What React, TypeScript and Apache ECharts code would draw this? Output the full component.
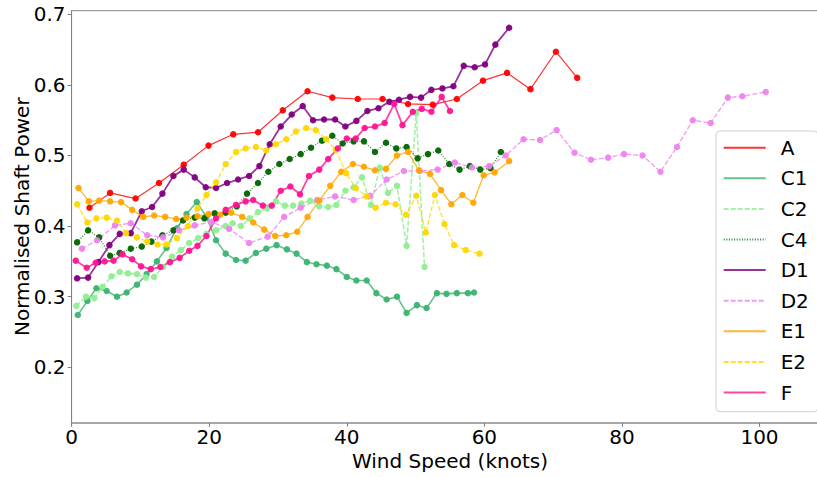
import React, { useEffect, useRef } from "react";
import * as echarts from "echarts";

// ---- data ----
const X_TICKS = [0, 20, 40, 60, 80, 100];
const Y_TICKS = [0.2, 0.3, 0.4, 0.5, 0.6, 0.7];

const A_x = [2.6, 5.6, 9.3, 12.7, 16.3, 19.9, 23.5, 27.1, 30.7, 34.3, 37.9, 41.6, 45.2, 48.9, 52.5, 56.0, 59.8, 63.3, 66.7, 70.4, 73.5];
const A_y = [0.426, 0.447, 0.439, 0.461, 0.487, 0.514, 0.530, 0.533, 0.564, 0.591, 0.582, 0.580, 0.580, 0.573, 0.572, 0.580, 0.606, 0.617, 0.594, 0.647, 0.610];

const C1_x = [0.9, 2.3, 3.6, 5.1, 6.6, 8.0, 9.5, 10.9, 12.4, 13.8, 15.3, 16.7, 18.2, 19.6, 21.0, 22.4, 23.9, 25.3, 26.8, 28.3, 29.8, 31.3, 32.7, 34.2, 35.6, 37.1, 38.5, 40.0, 41.4, 42.9, 44.3, 45.8, 47.3, 48.7, 50.2, 51.6, 53.1, 54.5, 56.0, 57.6, 58.5];
const C1_y = [0.274, 0.294, 0.312, 0.308, 0.300, 0.306, 0.317, 0.332, 0.350, 0.369, 0.397, 0.417, 0.434, 0.413, 0.380, 0.361, 0.352, 0.351, 0.362, 0.368, 0.373, 0.367, 0.361, 0.349, 0.346, 0.344, 0.339, 0.328, 0.323, 0.323, 0.305, 0.296, 0.300, 0.277, 0.288, 0.284, 0.305, 0.304, 0.305, 0.305, 0.306];

const C2_x = [0.7, 2.1, 3.3, 4.5, 5.8, 7.0, 8.2, 9.5, 10.8, 12.0, 13.3, 14.6, 15.9, 17.1, 18.4, 19.6, 21.0, 22.4, 23.4, 24.6, 25.9, 27.1, 28.4, 29.7, 31.0, 32.2, 33.4, 34.7, 36.0, 37.3, 38.5, 39.8, 41.0, 42.2, 43.5, 44.8, 46.0, 47.3, 48.7, 50.1, 51.3];
const C2_y = [0.287, 0.300, 0.298, 0.314, 0.329, 0.335, 0.333, 0.332, 0.327, 0.328, 0.342, 0.357, 0.366, 0.376, 0.383, 0.389, 0.394, 0.400, 0.404, 0.400, 0.411, 0.420, 0.425, 0.435, 0.429, 0.429, 0.432, 0.436, 0.428, 0.427, 0.430, 0.450, 0.455, 0.469, 0.430, 0.483, 0.447, 0.457, 0.372, 0.560, 0.342];

const C4_x = [0.8, 2.4, 4.0, 5.6, 7.0, 8.6, 10.2, 11.6, 13.2, 14.8, 16.2, 17.9, 19.3, 20.8, 22.4, 24.0, 25.5, 27.1, 28.6, 30.2, 31.7, 33.3, 34.8, 36.4, 37.9, 39.4, 41.0, 42.5, 44.1, 45.7, 47.2, 48.7, 50.3, 51.8, 53.3, 54.9, 56.4, 57.9, 59.4, 60.9, 62.4];
const C4_y = [0.377, 0.394, 0.384, 0.358, 0.362, 0.368, 0.371, 0.378, 0.387, 0.394, 0.408, 0.412, 0.411, 0.418, 0.419, 0.428, 0.446, 0.461, 0.477, 0.488, 0.495, 0.502, 0.511, 0.521, 0.528, 0.517, 0.520, 0.520, 0.505, 0.518, 0.510, 0.512, 0.496, 0.502, 0.507, 0.488, 0.480, 0.485, 0.480, 0.482, 0.505];

const D1_x = [0.8, 2.4, 3.9, 5.5, 7.0, 8.6, 10.2, 11.7, 13.2, 14.8, 16.3, 17.9, 19.5, 21.0, 22.6, 24.2, 25.8, 27.3, 28.8, 30.4, 32.0, 33.6, 35.1, 36.7, 38.3, 39.8, 41.4, 43.0, 44.6, 46.2, 47.6, 49.2, 50.8, 52.3, 53.9, 55.5, 57.0, 58.6, 60.1, 61.6, 63.6];
const D1_y = [0.326, 0.327, 0.349, 0.373, 0.389, 0.390, 0.421, 0.427, 0.446, 0.471, 0.480, 0.469, 0.455, 0.454, 0.461, 0.466, 0.471, 0.485, 0.516, 0.541, 0.558, 0.570, 0.550, 0.551, 0.551, 0.541, 0.549, 0.563, 0.567, 0.576, 0.579, 0.583, 0.582, 0.593, 0.595, 0.598, 0.627, 0.625, 0.629, 0.657, 0.681];

const D2_x = [1.5, 3.7, 6.3, 8.6, 11.0, 13.3, 15.6, 17.9, 20.3, 22.9, 25.8, 28.5, 30.9, 33.3, 35.7, 38.3, 41.0, 43.4, 45.8, 48.3, 50.6, 53.2, 55.7, 58.2, 60.7, 63.1, 65.7, 68.1, 70.5, 73.1, 75.5, 78.0, 80.3, 83.0, 85.6, 88.0, 90.3, 92.9, 95.4, 97.5, 100.9];
const D2_y = [0.368, 0.380, 0.401, 0.404, 0.387, 0.384, 0.394, 0.401, 0.406, 0.396, 0.376, 0.385, 0.413, 0.426, 0.437, 0.442, 0.437, 0.443, 0.466, 0.478, 0.478, 0.480, 0.490, 0.483, 0.485, 0.500, 0.523, 0.522, 0.536, 0.504, 0.494, 0.497, 0.502, 0.500, 0.477, 0.512, 0.550, 0.546, 0.582, 0.584, 0.590];

const E1_x = [1.0, 2.5, 4.0, 5.6, 7.2, 8.8, 10.4, 12.0, 13.6, 15.2, 16.7, 18.3, 19.9, 21.6, 23.2, 24.8, 26.4, 28.0, 29.6, 31.2, 32.8, 34.3, 36.0, 37.6, 39.2, 40.9, 42.5, 44.1, 45.7, 47.3, 48.9, 50.5, 52.1, 53.7, 55.2, 56.8, 58.4, 59.9, 61.5, 63.6];
const E1_y = [0.454, 0.435, 0.436, 0.435, 0.434, 0.423, 0.413, 0.415, 0.413, 0.410, 0.412, 0.414, 0.417, 0.416, 0.419, 0.413, 0.405, 0.395, 0.386, 0.387, 0.392, 0.413, 0.436, 0.457, 0.477, 0.488, 0.484, 0.479, 0.481, 0.500, 0.505, 0.479, 0.474, 0.451, 0.431, 0.444, 0.433, 0.472, 0.476, 0.492];

const E2_x = [0.8, 2.3, 3.6, 5.1, 6.6, 7.9, 9.5, 11.0, 12.5, 13.8, 15.3, 16.9, 18.3, 19.6, 21.0, 22.4, 23.9, 25.3, 26.8, 28.3, 29.7, 31.2, 32.6, 34.1, 35.5, 37.0, 38.4, 39.9, 41.3, 42.9, 44.2, 45.7, 47.1, 48.6, 50.1, 51.5, 52.8, 54.2, 55.6, 57.3, 59.3];
const E2_y = [0.431, 0.405, 0.411, 0.412, 0.408, 0.390, 0.384, 0.378, 0.374, 0.374, 0.383, 0.400, 0.425, 0.444, 0.462, 0.488, 0.505, 0.510, 0.512, 0.507, 0.516, 0.523, 0.534, 0.539, 0.536, 0.523, 0.508, 0.475, 0.454, 0.442, 0.426, 0.433, 0.431, 0.416, 0.443, 0.391, 0.444, 0.403, 0.373, 0.366, 0.361];

const F_x = [0.6, 2.2, 3.5, 4.8, 6.1, 7.4, 8.8, 10.1, 11.5, 12.9, 14.3, 15.7, 17.1, 18.3, 19.6, 21.0, 22.4, 23.9, 25.3, 26.4, 27.8, 29.1, 30.4, 31.8, 33.2, 34.5, 36.0, 37.3, 38.7, 40.0, 41.3, 42.6, 44.1, 45.5, 46.9, 48.1, 49.6, 50.9, 52.3, 53.8, 55.0];
const F_y = [0.351, 0.341, 0.348, 0.350, 0.351, 0.360, 0.353, 0.343, 0.339, 0.342, 0.349, 0.355, 0.365, 0.372, 0.386, 0.411, 0.423, 0.430, 0.435, 0.437, 0.429, 0.429, 0.450, 0.456, 0.445, 0.471, 0.480, 0.495, 0.510, 0.524, 0.524, 0.539, 0.541, 0.546, 0.573, 0.543, 0.562, 0.566, 0.562, 0.583, 0.563];

const SERIES_DATA: [string, number[], number[]][] = [
  ["A", A_x, A_y],
  ["C1", C1_x, C1_y],
  ["C2", C2_x, C2_y],
  ["C4", C4_x, C4_y],
  ["D1", D1_x, D1_y],
  ["D2", D2_x, D2_y],
  ["E1", E1_x, E1_y],
  ["E2", E2_x, E2_y],
  ["F", F_x, F_y],
];

// ---- styles ----
const STYLE: Record<string, { color: string; width: number; dash: any }> = {
  A: { color: "#ff0000", width: 1.2, dash: "solid" },
  C1: { color: "#3cb371", width: 1.6, dash: "solid" },
  C2: { color: "#90ee90", width: 1.6, dash: [5, 2] },
  C4: { color: "#006400", width: 1.2, dash: [1, 1.6] },
  D1: { color: "#800080", width: 1.8, dash: "solid" },
  D2: { color: "#ee82ee", width: 1.3, dash: [5, 2] },
  E1: { color: "#ffa500", width: 1.3, dash: "solid" },
  E2: { color: "#ffd700", width: 1.3, dash: [5, 2] },
  F: { color: "#ff1493", width: 1.8, dash: "solid" },
};

const FONT = "DejaVu Sans";
const FS = 20;

export default function App() {
  const ref = useRef<HTMLDivElement>(null);
  useEffect(() => {
    if (!ref.current) return;
    const chart = echarts.init(ref.current, null, { renderer: "svg" });
    const series = SERIES_DATA.map(([name, xs, ys]) => {
      const s = STYLE[name];
      return {
        name,
        type: "line",
        data: xs.map((x, i) => [x, ys[i]]),
        symbol: "circle",
        symbolSize: 6.5,
        showSymbol: true,
        itemStyle: { color: s.color, opacity: 0.95 },
        lineStyle: { color: s.color, width: s.width, type: s.dash, opacity: 0.8, cap: "butt" },
        emphasis: { disabled: true },
      };
    });
    chart.setOption({
      animation: false,
      textStyle: { fontFamily: FONT },
      grid: {
        left: 71.6,
        top: 10.7,
        right: -11.3,
        bottom: 54.3,
        outerBoundsMode: "none",
        containLabel: false,
        show: true,
        borderColor: "#888888",
        borderWidth: 1,
        backgroundColor: "transparent",
      },
      xAxis: {
        type: "value",
        min: 0,
        max: 110,
        name: "Wind Speed (knots)",
        nameLocation: "middle",
        nameGap: 28,
        nameMoveOverlap: false,
        nameTextStyle: { fontSize: FS, color: "#000", fontFamily: FONT },
        axisLine: { show: true, lineStyle: { color: "#a8a8a8", width: 2 } },
        axisTick: { show: true, length: 4, lineStyle: { color: "#808080" }, customValues: X_TICKS },
        axisLabel: {
          fontSize: FS,
          color: "#000",
          fontFamily: FONT,
          margin: 4,
          customValues: X_TICKS,
          formatter: (v: number) => String(Math.round(v)),
        },
        splitLine: { show: false },
      },
      yAxis: {
        type: "value",
        min: 0.1215,
        max: 0.7051,
        name: "Normalised Shaft Power",
        nameLocation: "middle",
        nameGap: 40,
        nameMoveOverlap: false,
        nameTextStyle: { fontSize: FS, color: "#000", fontFamily: FONT },
        axisLine: { show: true, lineStyle: { color: "#808080", width: 1 } },
        axisTick: { show: true, length: 4, lineStyle: { color: "#808080" }, customValues: Y_TICKS },
        axisLabel: {
          fontSize: FS,
          color: "#000",
          fontFamily: FONT,
          margin: 6,
          customValues: Y_TICKS,
          formatter: (v: number) => v.toFixed(1),
        },
        splitLine: { show: false },
      },
      legend: {
        orient: "vertical",
        left: 716,
        top: 131,
        itemWidth: 42,
        itemHeight: 10,
        itemGap: 10.6,
        padding: [6.7, 9, 9.2, 6.7],
        backgroundColor: "rgba(255,255,255,0.8)",
        borderColor: "#d0d0d0",
        borderWidth: 1,
        borderRadius: 4,
        itemStyle: { opacity: 0 },
        textStyle: { fontSize: FS, color: "#000", fontFamily: FONT, lineHeight: 20, padding: [0, 0, 0, 10] },
        selectedMode: false,
        data: SERIES_DATA.map((d) => d[0]),
      },
      series,
    });
    return () => chart.dispose();
  }, []);
  return <div ref={ref} style={{ position: "absolute", left: 0, top: 0, width: 817, height: 477 }} />;
}
